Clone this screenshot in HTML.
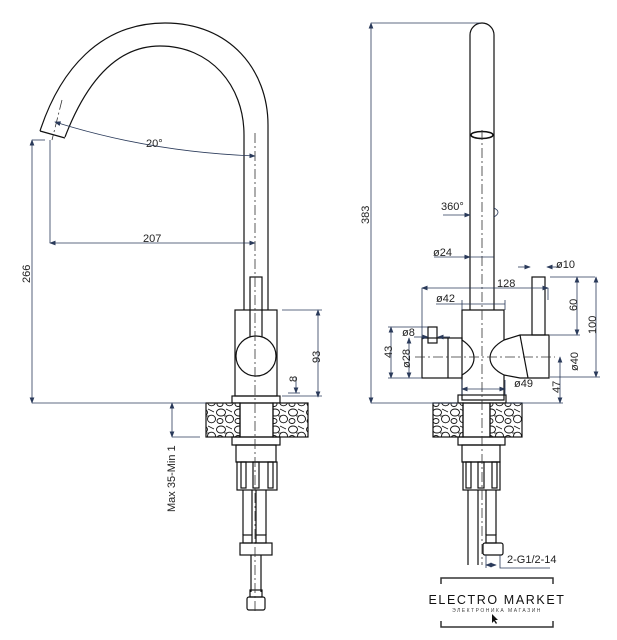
<!DOCTYPE html>
<html><head><meta charset="utf-8"><style>
html,body{margin:0;padding:0;background:#fff;width:617px;height:640px;overflow:hidden}
svg{display:block}
text{font-family:"Liberation Sans",sans-serif;font-size:11px;fill:#222}
</style></head><body>
<svg width="617" height="640" viewBox="0 0 617 640" xmlns="http://www.w3.org/2000/svg">
<defs>
<marker id="a" markerWidth="8" markerHeight="6" refX="7" refY="3" orient="auto-start-reverse"><path d="M0,0 L8,3 L0,6 z" fill="#2a3a5a"/></marker>
<pattern id="st" width="18" height="17" patternUnits="userSpaceOnUse">
<rect width="18" height="17" fill="#fff"/>
<ellipse cx="5" cy="4.5" rx="4.5" ry="3.5" fill="none" stroke="#111" stroke-width="0.9"/>
<ellipse cx="13.5" cy="11" rx="4" ry="3.8" fill="none" stroke="#111" stroke-width="0.9"/>
<ellipse cx="4" cy="13" rx="3" ry="2.5" fill="none" stroke="#111" stroke-width="0.9"/>
<path d="M10,1 L16,4 M8,8 L11,8" stroke="#111" stroke-width="0.7"/>
</pattern>
</defs>
<g fill="none" stroke="#111" stroke-width="1.2">
<path d="M40,131 C60,70 100,23 165,23 C230,23 268,70 268,125 L268,310"/>
<path d="M65,137 C85,85 115,46 160,46 C210,46 244,85 244,135 L244,310"/>
<path d="M40,131 L65,138"/>
<rect x="235" y="310" width="42" height="86"/>
<rect x="250" y="277" width="12" height="60"/>
<circle cx="256" cy="356" r="20" fill="#fff"/>
<rect x="232" y="396" width="48" height="7"/>
<rect x="206" y="403" width="34" height="34" fill="url(#st)"/>
<rect x="273" y="403" width="35" height="34" fill="url(#st)"/>
<rect x="240" y="403" width="33" height="34"/>
<path d="M232,437 L280,437 L280,445 L232,445 Z"/>
<path d="M236,445 L276,445 L276,462 L236,462 Z"/>
<rect x="237" y="462" width="40" height="28"/>
<rect x="241" y="462" width="5" height="26"/><rect x="253" y="462" width="6" height="26"/><rect x="268" y="462" width="5" height="26"/>
<path d="M243,490 V535 M252,490 V535 M256,490 V535 M266,490 V535"/>
<rect x="243" y="535" width="9" height="8"/><rect x="256" y="535" width="10" height="8"/>
<rect x="240" y="543" width="32" height="12"/>
<path d="M251,555 V592 M261,555 V592"/>
<rect x="250" y="590" width="12" height="7"/>
<rect x="247" y="597" width="18" height="13" rx="2"/>
<path d="M470,310 L470,35 A12,12 0 0 1 494,35 L494,310"/>
<ellipse cx="482" cy="135" rx="11" ry="3.5" stroke-width="1.6"/>
<path d="M462,310 H504 V340 Q490,348 490,358 Q490,368 504,375 V400 H462 V375 Q474,368 474,358 Q474,348 462,340 Z"/>
<rect x="422" y="338" width="40" height="40"/>
<path d="M448,338 V378"/>
<rect x="428" y="327" width="9" height="16"/>
<path d="M504,340 L520,335 L549,335 L549,378 L520,378 L504,375"/>
<path d="M520,335 L528,378"/>
<rect x="532" y="277" width="13" height="58"/>
<rect x="458" y="395" width="48" height="8"/>
<rect x="433" y="403" width="30" height="34" fill="url(#st)"/>
<rect x="490" y="403" width="32" height="34" fill="url(#st)"/>
<rect x="463" y="403" width="27" height="34"/>
<path d="M458,437 H505 V445 H458 Z"/>
<path d="M462,445 H500 V462 H462 Z"/>
<rect x="463" y="462" width="37" height="28"/>
<rect x="466" y="462" width="5" height="26"/><rect x="478" y="462" width="6" height="26"/><rect x="492" y="462" width="5" height="26"/>
<path d="M468,490 V565 M478,490 V565 M486,490 V535 M496,490 V535"/>
<rect x="486" y="535" width="10" height="8"/>
<rect x="483" y="543" width="20" height="12" rx="2"/>
<path d="M441,584 V578 H553 V584 M441,621 V627 H553 V621" stroke="#333" stroke-width="1.5"/>
</g>
<g stroke="#333" stroke-width="0.8" stroke-dasharray="10,3,2,3" fill="none">
<path d="M255,133 V612"/><path d="M482,130 V565"/><path d="M415,357 H555"/>
<path d="M62,100 L52,140"/>
</g>
<g stroke="#2a3a5a" stroke-width="0.8" fill="none">
<path d="M55,122 Q150,152 255,156" marker-start="url(#a)" marker-end="url(#a)"/>
<path d="M50,140 V243"/><path d="M50,243 H255" marker-start="url(#a)" marker-end="url(#a)"/>
<path d="M32,140 H45"/><path d="M32,140 V403" marker-start="url(#a)" marker-end="url(#a)"/>
<path d="M32,403 H206"/>
<path d="M282,310 H322"/><path d="M318,310 V397" marker-start="url(#a)" marker-end="url(#a)"/>
<path d="M282,396 H322"/><path d="M296,377 V393" marker-end="url(#a)"/><path d="M288,393 H300"/>
<path d="M172,403 V437" marker-start="url(#a)" marker-end="url(#a)"/><path d="M172,437 H200"/>
<path d="M371,23 H480"/><path d="M371,23 V403" marker-start="url(#a)" marker-end="url(#a)"/><path d="M371,403 H458"/>
<path d="M443,215 H470" marker-end="url(#a)"/><path d="M494,208 q8,4 0,9"/>
<path d="M434,257 H494"/><path d="M470,257 l-6,0 M494,257" marker-start="url(#a)"/>
<path d="M422,288 H548" marker-start="url(#a)" marker-end="url(#a)"/><path d="M422,288 V338 M548,288 V300"/>
<path d="M436,304 H505"/><path d="M462,300 V310 M505,300 V310"/>
<path d="M518,267 H530" marker-end="url(#a)"/><path d="M560,267 H547" marker-end="url(#a)"/>
<path d="M550,277 H595 M550,335 H580 M550,377 H600"/>
<path d="M577,277 V335" marker-start="url(#a)" marker-end="url(#a)"/>
<path d="M596,277 V377" marker-start="url(#a)" marker-end="url(#a)"/>
<path d="M560,357 V403" marker-start="url(#a)" marker-end="url(#a)"/><path d="M506,403 H563"/>
<path d="M391,327 V378" marker-start="url(#a)" marker-end="url(#a)"/><path d="M388,327 H428 M388,378 H422"/>
<path d="M409,338 V378" marker-start="url(#a)" marker-end="url(#a)"/>
<path d="M414,337 H428" marker-end="url(#a)"/><path d="M450,337 H438" marker-end="url(#a)"/>
<path d="M462,389 H505" marker-start="url(#a)" marker-end="url(#a)"/><path d="M462,380 V395 M505,380 V395"/>
<path d="M486,565 H496" marker-start="url(#a)" marker-end="url(#a)"/><path d="M486,555 V568 M500,555 V568 H550"/>
</g>
<text x="146" y="147">20°</text>
<text x="143" y="242">207</text>
<text x="0" y="0" transform="translate(30,283) rotate(-90)">266</text>
<text x="0" y="0" transform="translate(320,363) rotate(-90)">93</text>
<text x="0" y="0" transform="translate(297,382) rotate(-90)">8</text>
<text x="0" y="0" transform="translate(175,512) rotate(-90)">Max 35-Min 1</text>
<text x="0" y="0" transform="translate(369,224) rotate(-90)">383</text>
<text x="441" y="210">360°</text>
<text x="433" y="256">ø24</text>
<text x="497" y="287">128</text>
<text x="436" y="302">ø42</text>
<text x="556" y="268">ø10</text>
<text x="0" y="0" transform="translate(577,311) rotate(-90)">60</text>
<text x="0" y="0" transform="translate(596,334) rotate(-90)">100</text>
<text x="0" y="0" transform="translate(578,371) rotate(-90)">ø40</text>
<text x="0" y="0" transform="translate(560,393) rotate(-90)">47</text>
<text x="0" y="0" transform="translate(392,358) rotate(-90)">43</text>
<text x="0" y="0" transform="translate(410,368) rotate(-90)">ø28</text>
<text x="402" y="336">ø8</text>
<text x="514" y="387">ø49</text>
<text x="507" y="563">2-G1/2-14</text>
<text x="497" y="604" text-anchor="middle" style="font-size:12.5px;letter-spacing:1.6px;fill:#111">ELECTRO MARKET</text>
<text x="497" y="612" text-anchor="middle" style="font-size:5px;letter-spacing:1.5px;fill:#444">ЭЛЕКТРОНИКА МАГАЗИН</text>
<path d="M492,614 l0,9 l2,-2 l2,3 l1,-1 l-2,-3 l3,0 z" fill="#111"/>
</svg>
</body></html>
